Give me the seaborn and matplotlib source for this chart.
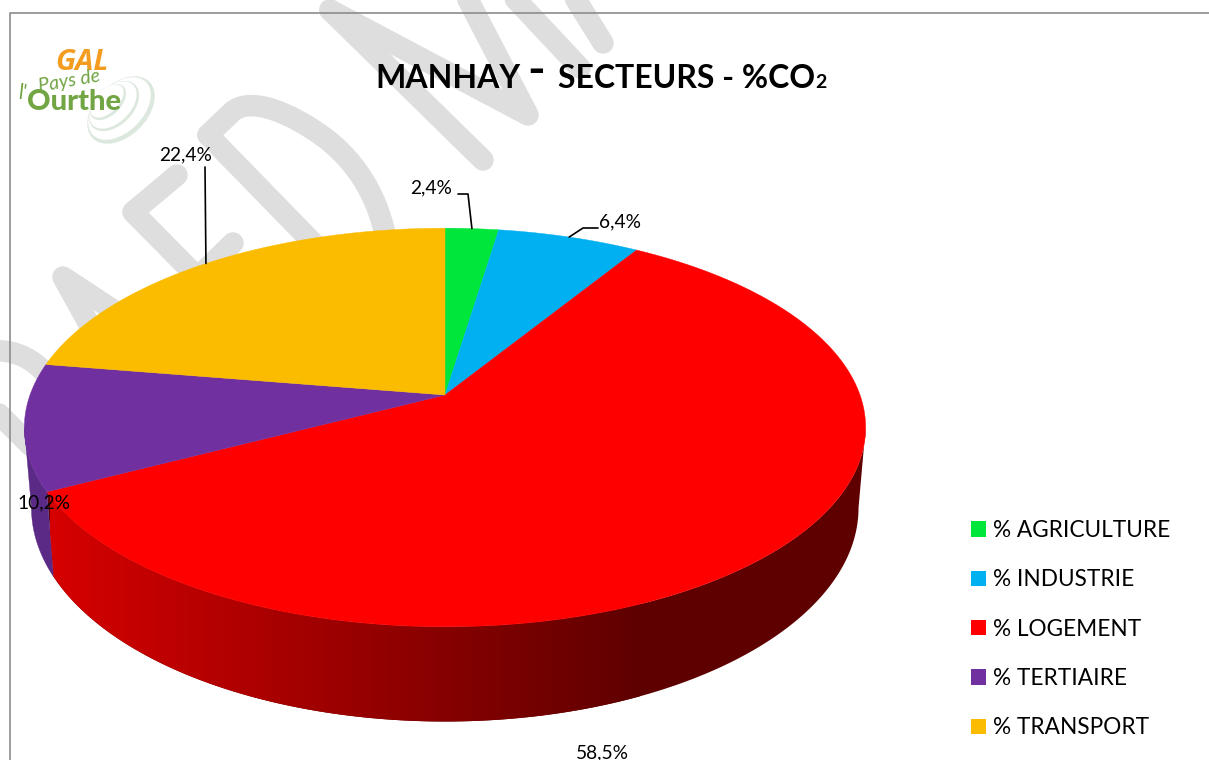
#!/usr/bin/env python3

import numpy as np
import matplotlib

matplotlib.use("Agg")
import matplotlib.pyplot as plt
from matplotlib.patches import Ellipse, Patch, PathPatch, Polygon
from matplotlib.path import Path
import seaborn as sns

sectors = ["% AGRICULTURE", "% INDUSTRIE", "% LOGEMENT", "% TERTIAIRE", "% TRANSPORT"]
shares = [2.4, 6.4, 58.5, 10.2, 22.4]
share_labels = ["2,4%", "6,4%", "58,5%", "10,2%", "22,4%"]
top_colors = ["#00E63B", "#00B0F0", "#FF0000", "#7030A0", "#FBBC00"]
side_colors = ["#00A02A", "#007BA8", None, "#5B2A86", "#B08400"]

# label position and elbow of the leader line, None when there is no leader
label_pos = [(431, 188), (620, 222), (602, 753), (44, 503), (186, 155)]
leader_elbow = [[(458, 194), (468, 194)], [(598, 228), (583, 228)], None, None, [(205, 167)]]

# grey watermark, rounded pen strokes
watermark = [
    [(330, 10), (483, 160)],
    [(330, 10), (528, 115), (463, -10)],
    [(507, -10), (580, 68)],
    [(570, -10), (603, 43)],
    [(208, 135), (320, 250)],
    [(177, 175), (133, 212), (210, 290)],
    [(233, 243), (200, 275)],
    [(113, 310), (63, 277), (95, 335)],
    [(-10, 405), (30, 445)],
]
# curved watermark strokes: start, then a straight piece, then two beziers
d_curve = [(208, 135), (232, 112), (250, 96), (290, 112), (325, 138),
           (358, 163), (380, 200), (387, 245)]
d_codes = [Path.MOVETO, Path.LINETO] + [Path.CURVE4] * 6
r_curve = [(-10, 351), (15, 349), (38, 358), (58, 390)]
r_codes = [Path.MOVETO] + [Path.CURVE4] * 3

# perspective of the two rims, in pixels
cx = 445
top_y, bottom_y = 395, 473
top_a, top_b = 415, 194
bottom_a, bottom_b = 408, 208
k = 0.163


def rim(theta, a, b, y0):
    x = np.sin(theta)
    y = np.cos(theta)
    d = 1 + k * y
    return cx + a * x / d, y0 - b * y / d


sns.set_theme(style="white")
plt.rcParams["font.family"] = ["Lato", "DejaVu Sans"]

fig = plt.figure(figsize=(12.09, 7.6), dpi=100)
ax = fig.add_axes([0, 0, 1, 1])

stroke_style = dict(color="#DEDEDE", lw=15.5, solid_capstyle="round",
                    solid_joinstyle="round", zorder=1)
for stroke in watermark:
    xs, ys = zip(*stroke)
    ax.plot(xs, ys, **stroke_style)
for verts, codes in [(d_curve, d_codes), (r_curve, r_codes)]:
    ax.add_patch(PathPatch(Path(verts, codes), fc="none", ec="#DEDEDE", lw=15.5,
                           capstyle="round", joinstyle="round", zorder=1))

ax.plot([9.5, 9.5, 1209], [760, 12.5, 12.5], color="#8C8C8C", lw=1.2, zorder=2)

fractions = np.array(shares) / sum(shares)
edges = np.concatenate([[0], np.cumsum(fractions)]) * 2 * np.pi

# only the front of the wall shows, between the two silhouette tangents
front_start = np.arccos(-k)
front_end = 2 * np.pi - front_start

# side wall: gradient for the big slice, flat colour for the others
red_shade = np.array(sns.blend_palette(["#D60000", "#5F0000"], 256))[None, :, :]
for i in range(len(shares)):
    start = max(edges[i], front_start)
    end = min(edges[i + 1], front_end)
    if end <= start:
        continue
    t = np.linspace(start, end, 300)
    x1, y1 = rim(t, top_a, top_b, top_y)
    x2, y2 = rim(t, bottom_a, bottom_b, bottom_y)
    outline = np.column_stack([np.r_[x1, x2[::-1]], np.r_[y1, y2[::-1]]])
    if side_colors[i] is None:
        ax.add_patch(Polygon(outline, closed=True, fc="#5F0000", lw=0, zorder=3))
        grad = ax.imshow(red_shade, extent=(50, 640, 760, 0), aspect="auto", zorder=3.1,
                         interpolation="bilinear")
        grad.set_clip_path(Polygon(outline, closed=True, transform=ax.transData))
    else:
        ax.fill(outline[:, 0], outline[:, 1], color=side_colors[i], lw=0.3, zorder=3)

for i in range(len(shares)):
    t = np.linspace(edges[i], edges[i + 1], 200)
    x, y = rim(t, top_a, top_b, top_y)
    ax.fill(np.r_[cx, x], np.r_[top_y, y], color=top_colors[i], lw=0.3, zorder=4)

# labels and leaders
for i in range(len(shares)):
    ax.text(*label_pos[i], share_labels[i], fontsize=13.8, color="black",
            ha="center", va="center", zorder=6)
    if leader_elbow[i] is not None:
        mid = (edges[i] + edges[i + 1]) / 2
        pts = leader_elbow[i] + [rim(mid, top_a, top_b, top_y)]
        xs, ys = zip(*pts)
        ax.plot(xs, ys, color="black", lw=1.2, zorder=6)

# title
title_y = 78
title_style = dict(fontweight="bold", va="center", color="black", zorder=6)
ax.text(375, title_y, "MANHAY", fontsize=23, **title_style)
ax.text(527, title_y - 7, "-", fontsize=34, **title_style)
ax.text(558, title_y, "SECTEURS - %CO", fontsize=23, **title_style)
ax.text(815, title_y + 4, "2", fontsize=14, **title_style)

# legend
handles = [Patch(color=c, lw=0) for c in top_colors]
ax.legend(handles, sectors, loc="upper left", bbox_to_anchor=(971, 520),
          bbox_transform=ax.transData, frameon=False, fontsize=16.3, borderpad=0,
          borderaxespad=0, handlelength=0.66, handleheight=0.66, handletextpad=0.3,
          labelspacing=1.25, labelcolor="black")

# logo
rings = [
    (121, 110, 80, 52, "#DCE8DE"),
    (119.5, 108.5, 75, 47, "white"),
    (114, 106, 60, 38, "#DCE8DE"),
    (113, 105, 57, 35, "white"),
    (108, 102, 44, 26, "#DCE8DE"),
    (107, 101, 41, 23, "white"),
]
for ex, ey, w, h, c in rings:
    ax.add_patch(Ellipse((ex, ey), w, h, angle=-45, color=c, lw=0, zorder=5))
ax.text(55, 62, "GAL", fontsize=21, fontweight="bold", style="italic", color="#F39C1F",
        family="Open Sans", va="center", zorder=6)
ax.text(37, 81, "Pays de", fontsize=14, style="italic", color="#72A544", rotation=10,
        family="Lato", va="center", zorder=6)
ax.text(18, 93, "l'", fontsize=15, style="italic", color="#72A544",
        family="Lato", va="center", zorder=6)
ax.text(27, 102, "Ourthe", fontsize=21, fontweight=900, color="#72A544",
        family="Lato", va="center", zorder=6)

ax.set_xlim(0, 1209)
ax.set_ylim(760, 0)
ax.axis("off")

fig.savefig("out.png", dpi=100)
